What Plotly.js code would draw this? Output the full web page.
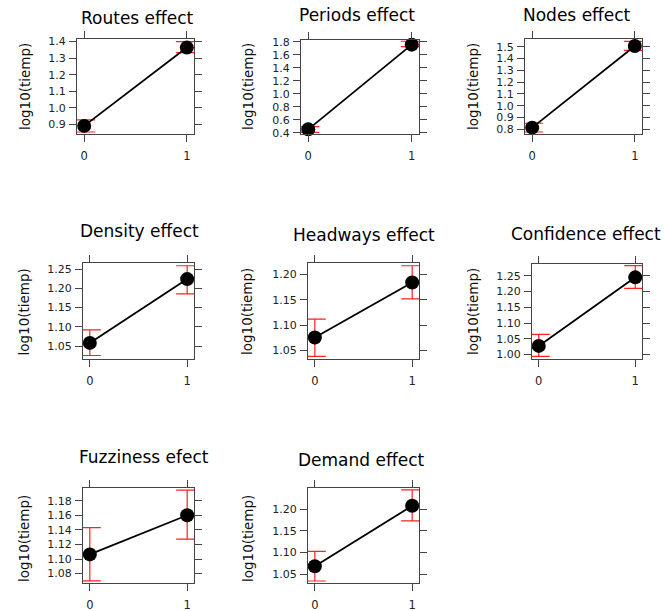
<!DOCTYPE html>
<html>
<head>
<meta charset="utf-8">
<script src="https://cdn.plot.ly/plotly-3.0.1.min.js"></script>
<style>html,body{margin:0;padding:0;background:#fff;}#chart{width:664px;height:611px;}</style>
</head>
<body>
<div id="chart"></div>
<script>
// ---- data ----
const levels = [0, 1];
const xTickLabels = ["0", "1"];
const panelTitles = ["Routes effect", "Periods effect", "Nodes effect",
  "Density effect", "Headways effect", "Confidence effect",
  "Fuzziness efect", "Demand effect"];
const yAxisLabel = "log10(tiemp)";
const fitRoutes = [0.890, 1.364],  lowerRoutes = [0.853, 1.333],  upperRoutes = [0.926, 1.400];
const fitPeriods = [0.452, 1.758], lowerPeriods = [0.405, 1.727], upperPeriods = [0.493, 1.811];
const fitNodes = [0.814, 1.506],   lowerNodes = [0.777, 1.469],   upperNodes = [0.851, 1.545];
const fitDensity = [1.0586, 1.224], lowerDensity = [1.026, 1.1856], upperDensity = [1.0925, 1.2586];
const fitHeadways = [1.0753, 1.184], lowerHeadways = [1.038, 1.1516], upperHeadways = [1.1118, 1.2173];
const fitConfidence = [1.0275, 1.2447], lowerConfidence = [0.9946, 1.2095], upperConfidence = [1.0639, 1.2819];
const fitFuzziness = [1.1063, 1.1602], lowerFuzziness = [1.0698, 1.1274], upperFuzziness = [1.1431, 1.1948];
const fitDemand = [1.0685, 1.2077], lowerDemand = [1.0345, 1.173], upperDemand = [1.1026, 1.2442];
const yTickValues = [
  [0.9, 1.0, 1.1, 1.2, 1.3, 1.4],
  [0.4, 0.6, 0.8, 1.0, 1.2, 1.4, 1.6, 1.8],
  [0.8, 0.9, 1.0, 1.1, 1.2, 1.3, 1.4, 1.5],
  [1.05, 1.10, 1.15, 1.20, 1.25],
  [1.05, 1.10, 1.15, 1.20],
  [1.00, 1.05, 1.10, 1.15, 1.20, 1.25],
  [1.08, 1.10, 1.12, 1.14, 1.16, 1.18],
  [1.05, 1.10, 1.15, 1.20]
];

// ---- layout geometry (pixels) ----
const W = 664, H = 611;
const fits = [fitRoutes, fitPeriods, fitNodes, fitDensity, fitHeadways, fitConfidence, fitFuzziness, fitDemand];
const lowers = [lowerRoutes, lowerPeriods, lowerNodes, lowerDensity, lowerHeadways, lowerConfidence, lowerFuzziness, lowerDemand];
const uppers = [upperRoutes, upperPeriods, upperNodes, upperDensity, upperHeadways, upperConfidence, upperFuzziness, upperDemand];
const boxes = [ // [left, right, top, bottom]
  [77, 194, 39, 134], [301, 419, 40, 134], [525, 642, 39, 134],
  [83, 194, 263, 359], [308, 419, 263, 359], [532, 642, 264, 359],
  [83, 194, 488, 583], [308, 419, 488, 583]
];
const yRanges = [
  [0.841, 1.416], [0.38, 1.83], [0.76, 1.565],
  [1.0169, 1.2657], [1.0327, 1.2227], [0.986, 1.287],
  [1.067, 1.1976], [1.0299, 1.2487]
];
const yFormats = [".1f", ".1f", ".1f", ".2f", ".2f", ".2f", ".2f", ".2f"];
const titlePos = [[137, 18], [357, 14.5], [577, 14.5], [139, 231], [364, 235], [586, 234.5], [144, 456.5], [360.5, 459.5]];
const yTitlePos = [[25, 87], [248, 87], [473, 87], [23.5, 312], [247, 312], [473, 312], [24, 539], [248, 539]];

const FONT = "DejaVu Sans, sans-serif";
const traces = [];
const layout = {
  width: W, height: H, margin: {l: 0, r: 0, t: 0, b: 0},
  paper_bgcolor: "#fff", plot_bgcolor: "#fff", showlegend: false,
  annotations: []
};

for (let i = 0; i < fits.length; i++) {
  const n = i + 1;
  const sfx = n === 1 ? "" : String(n);
  const err = fits[i].map((v, k) => uppers[i][k] - v);
  const errm = fits[i].map((v, k) => v - lowers[i][k]);
  traces.push({
    type: "scatter", mode: "lines+markers",
    x: levels, y: fits[i],
    xaxis: "x" + sfx, yaxis: "y" + sfx,
    line: {color: "#000", width: 1.8},
    marker: {color: "#000", size: 14},
    error_y: {type: "data", symmetric: false, array: err, arrayminus: errm,
              color: "#ff2020", thickness: 1.2, width: 11},
    cliponaxis: false, hoverinfo: "skip"
  });
  const b = boxes[i];
  const axCommon = {
    showline: true, linecolor: "#444", linewidth: 1, mirror: "ticks",
    ticks: "outside", ticklen: 7, tickwidth: 1, tickcolor: "#444",
    showgrid: false, zeroline: false, fixedrange: true,
    tickfont: {family: FONT, size: 11, color: "#222"}
  };
  layout["xaxis" + sfx] = Object.assign({}, axCommon, {
    domain: [b[0] / W, b[1] / W], range: [-0.07, 1.07],
    tickmode: "array", tickvals: levels, ticktext: xTickLabels,
    anchor: "y" + sfx, ticklabelstandoff: 4,
    tickfont: {family: FONT, size: 11.5, color: "#222"}
  });
  layout["yaxis" + sfx] = Object.assign({}, axCommon, {
    domain: [1 - b[3] / H, 1 - b[2] / H], range: yRanges[i],
    tickmode: "array", tickvals: yTickValues[i], tickformat: yFormats[i],
    anchor: "x" + sfx, ticklabelstandoff: 1
  });
  layout.annotations.push({
    xref: "paper", yref: "paper", x: titlePos[i][0] / W, y: 1 - titlePos[i][1] / H,
    xanchor: "center", yanchor: "middle", showarrow: false,
    text: panelTitles[i], font: {family: FONT, size: 17, color: "#000"}
  });
  layout.annotations.push({
    xref: "paper", yref: "paper", x: yTitlePos[i][0] / W, y: 1 - yTitlePos[i][1] / H,
    xanchor: "center", yanchor: "middle", showarrow: false, textangle: -90,
    text: yAxisLabel, font: {family: FONT, size: 13.5, color: "#111"}
  });
}

Plotly.newPlot("chart", traces, layout, {displayModeBar: false, staticPlot: true});
</script>
</body>
</html>
